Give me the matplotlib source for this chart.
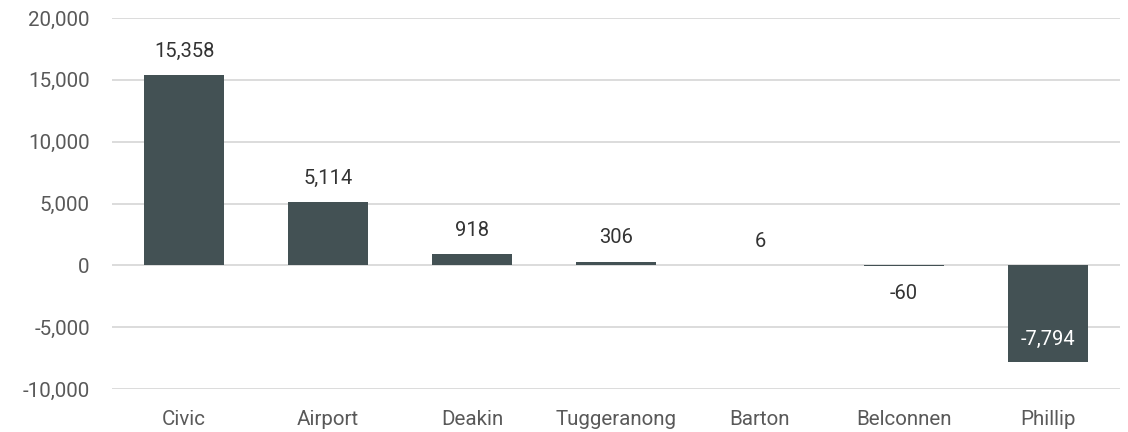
import matplotlib
matplotlib.use('Agg')
import matplotlib.pyplot as plt
from matplotlib.ticker import FuncFormatter

suburbs = ['Civic', 'Airport', 'Deakin', 'Tuggeranong', 'Barton', 'Belconnen', 'Phillip']
change = [15358, 5114, 918, 306, 6, -60, -7794]

BAR = '#435154'
TXT = '#595959'
GRID = '#d9d9d9'

plt.rcParams['font.family'] = ['Roboto', 'DejaVu Sans']

fig = plt.figure(figsize=(11.28, 4.32), dpi=100)
ax = fig.add_axes([0.0993, 0.0995, 0.8936, 0.8588])

x = list(range(len(suburbs)))
ax.bar(x, change, width=0.556, color=BAR, zorder=3)

ax.set_xlim(-0.5, len(suburbs) - 0.5)
ax.set_ylim(-10000, 20000)
ax.set_yticks(range(-10000, 20001, 5000))
ax.yaxis.set_major_formatter(FuncFormatter(lambda v, p: f'{int(v):,}'))
ax.set_xticks(x)
ax.set_xticklabels(suburbs)
ax.grid(axis='y', color=GRID, lw=1.3, zorder=0)
ax.tick_params(length=0, labelsize=14.8, colors=TXT)
ax.tick_params(axis='y', pad=16)
ax.tick_params(axis='x', pad=15)
for s in ax.spines.values():
    s.set_visible(False)

for xi, v in zip(x, change):
    if v >= 0:
        ax.annotate(f'{v:,}', (xi, v), textcoords='offset points', xytext=(0, 17),
                    ha='center', va='center', fontsize=14.5, color='#333333')
    elif v > -1000:
        ax.annotate(f'{v:,}', (xi, v), textcoords='offset points', xytext=(0, -20),
                    ha='center', va='center', fontsize=14.5, color='#333333')
    else:
        ax.annotate(f'{v:,}', (xi, v), textcoords='offset points', xytext=(0, 16),
                    ha='center', va='center', fontsize=14.5, color='white', zorder=5)

fig.savefig('out.png', dpi=100)
